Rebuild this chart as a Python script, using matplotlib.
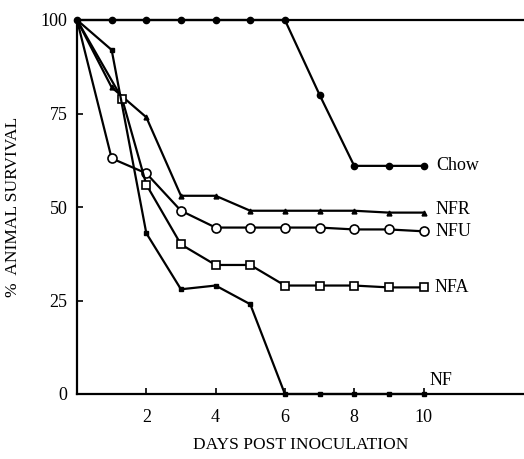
import matplotlib.pyplot as plt

plt.rcParams["font.family"] = ["Liberation Serif", "DejaVu Serif"]

# Data
days = [0, 1, 2, 3, 4, 5, 6, 7, 8, 9, 10]
days_nfa = [0, 1.3, 2, 3, 4, 5, 6, 7, 8, 9, 10]

chow = [100, 100, 100, 100, 100, 100, 100, 80, 61, 61, 61]
nfr = [100, 82, 74, 53, 53, 49, 49, 49, 49, 48.5, 48.5]
nfu = [100, 63, 59, 49, 44.5, 44.5, 44.5, 44.5, 44, 44, 43.5]
nfa = [100, 79, 56, 40, 34.5, 34.5, 29, 29, 29, 28.5, 28.5]
nf = [100, 92, 43, 28, 29, 24, 0, 0, 0, 0, 0]

x_ticks = [2, 4, 6, 8, 10]
y_ticks = [0, 25, 50, 75, 100]

fig = plt.figure(figsize=(5.24, 4.59), dpi=100)
ax = fig.add_axes([77 / 524, 1 - 394 / 459, 1 - 77 / 524, (394 - 20) / 459])

lw = 1.6
skip0 = list(range(1, 11))  # the shared start point is drawn once, by Chow
ax.plot(days, chow, color="black", lw=lw, marker="o", ms=4.5, clip_on=False)
ax.plot(days, nfr, color="black", lw=lw, marker="^", ms=3.5,
        markevery=skip0, clip_on=False)
ax.plot(days, nfu, color="black", lw=lw, marker="o", ms=6.5,
        mfc="white", mec="black", mew=1.2, markevery=skip0, clip_on=False)
ax.plot(days_nfa, nfa, color="black", lw=lw, marker="s", ms=6,
        mfc="white", mec="black", mew=1.2, markevery=skip0, clip_on=False)
ax.plot(days, nf, color="black", lw=lw, marker="s", ms=3.5,
        markevery=skip0, clip_on=False)

# Series names at the line ends
lab = dict(fontsize=13, va="center", ha="left", textcoords="offset points")
ax.annotate("Chow", (10, chow[-1]), xytext=(9, 0), **lab)
ax.annotate("NFR", (10, nfr[-1]), xytext=(9, 2), **lab)
ax.annotate("NFU", (10, nfu[-1]), xytext=(9, 0), **lab)
ax.annotate("NFA", (10, nfa[-1]), xytext=(8, 0), **lab)
ax.annotate("NF", (10, nf[-1]), xytext=(4, 10), **lab)

ax.set_xlim(0, 12.9)
ax.set_ylim(0, 100)
ax.set_xticks(x_ticks)
ax.set_yticks(y_ticks)
ax.tick_params(direction="in", length=4, width=1.2, labelsize=13)
ax.tick_params(axis="y", pad=7)
ax.tick_params(axis="x", pad=11)
ax.spines["right"].set_visible(False)
for s in ["left", "bottom", "top"]:
    ax.spines[s].set_linewidth(1.6)

ax.set_xlabel("DAYS POST INOCULATION", fontsize=12.5, labelpad=8)
ax.set_ylabel("%  ANIMAL SURVIVAL", fontsize=12.5, labelpad=14)

fig.savefig("out.png", dpi=100)
